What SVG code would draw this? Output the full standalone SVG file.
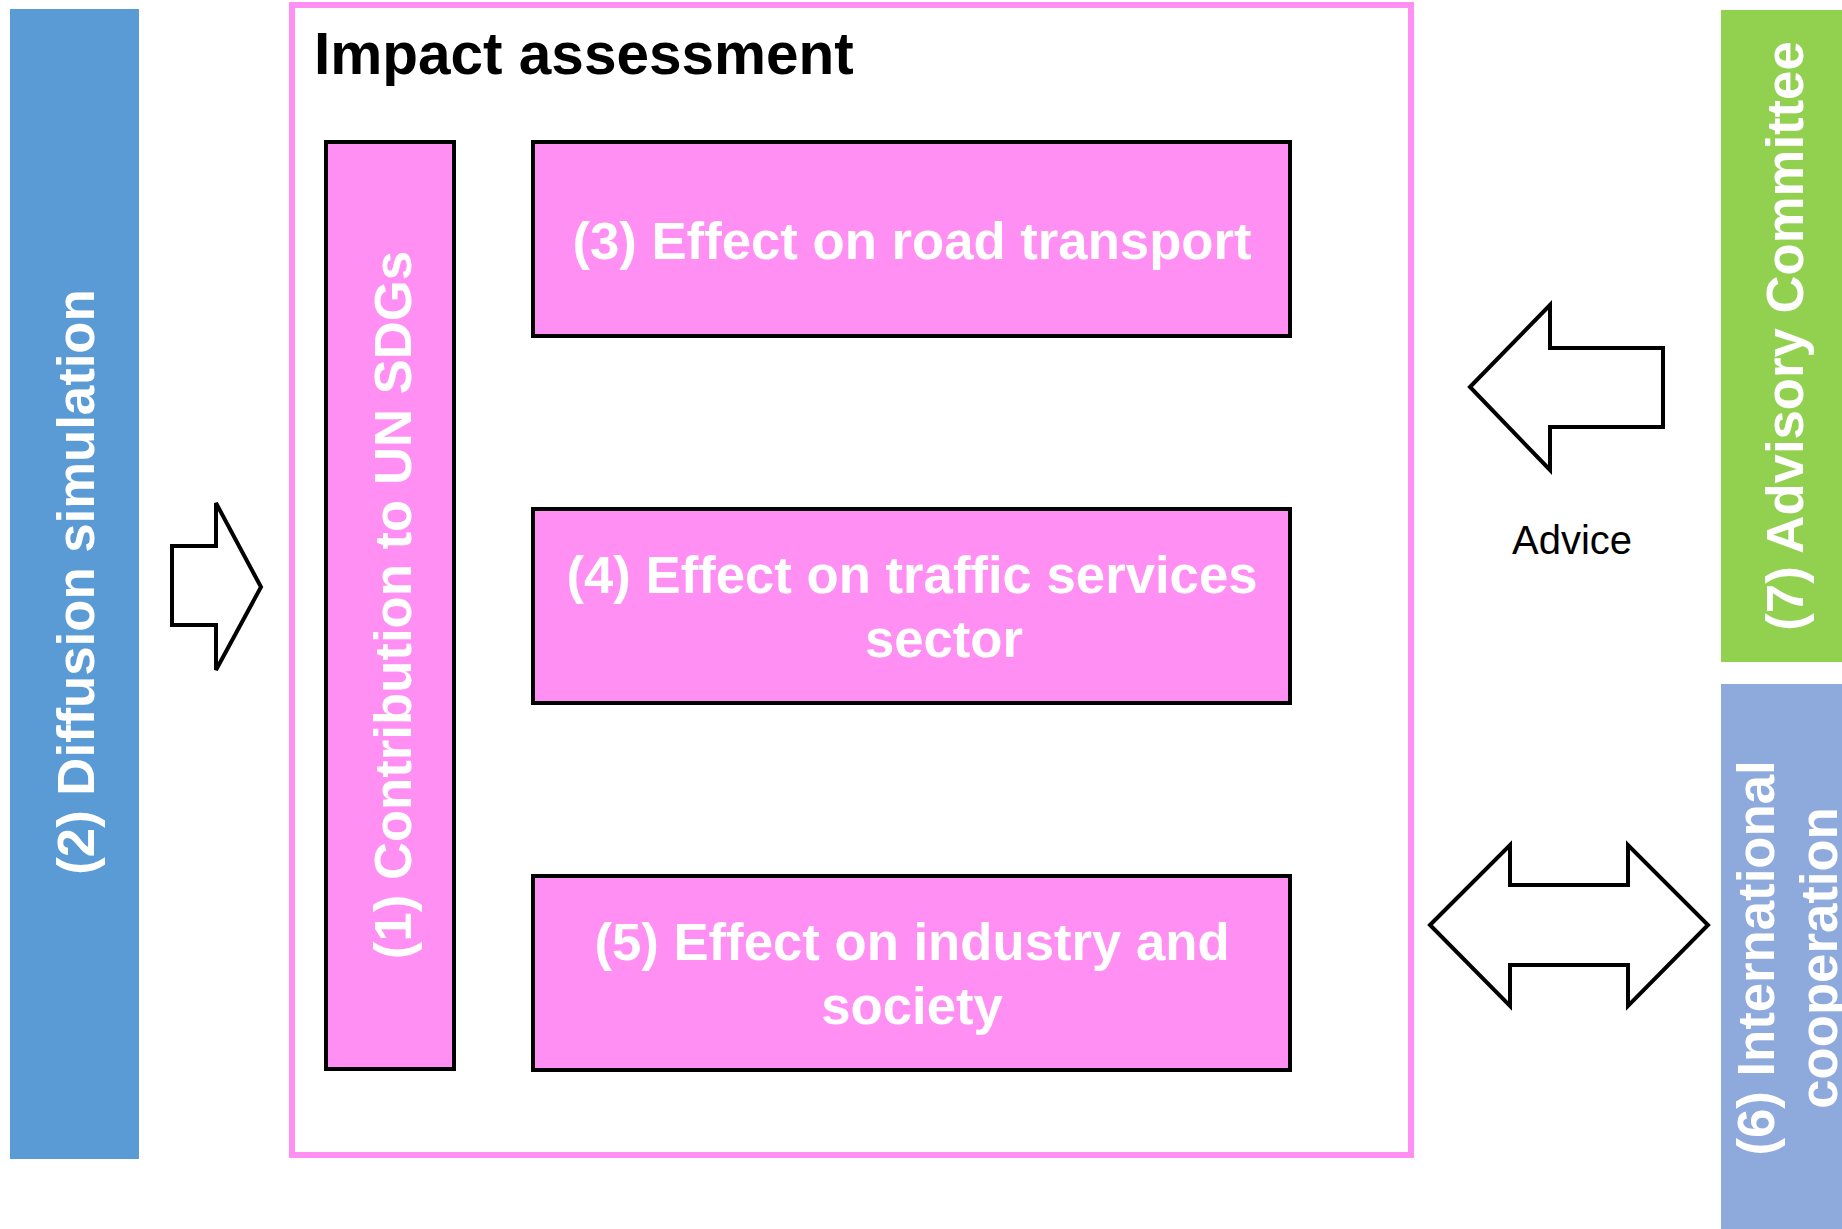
<svg xmlns="http://www.w3.org/2000/svg" width="1842" height="1229" viewBox="0 0 1842 1229">
<style>
.box{fill:#FF8FF3;stroke:#000;stroke-width:4}
.wt{fill:#fff;font-family:"Liberation Sans",Arial,sans-serif;font-weight:bold;font-size:52.7px;text-anchor:middle}
.arrow{fill:#fff;stroke:#000;stroke-width:4;stroke-linejoin:miter}
</style>
<rect width="1842" height="1229" fill="#fff"/>
<g id="diffusion">
<rect x="10" y="9" width="129" height="1150" fill="#5B9BD5"/>
<text class="wt" transform="translate(94,582) rotate(-90)">(2) Diffusion simulation</text>
</g>
<g id="impact">
<rect x="292" y="5" width="1119" height="1150" fill="none" stroke="#FF8FF3" stroke-width="6"/>
<text x="314" y="74" font-family="Liberation Sans,Arial,sans-serif" font-weight="bold" font-size="58.5" fill="#000">Impact assessment</text>
</g>
<g id="n1">
<rect class="box" x="326" y="142" width="128" height="927"/>
<text class="wt" transform="translate(411,605) rotate(-90)">(1) Contribution to UN SDGs</text>
</g>
<g id="n3">
<rect class="box" x="533" y="142" width="757" height="194"/>
<text class="wt" x="912" y="259">(3) Effect on road transport</text>
</g>
<g id="n4">
<rect class="box" x="533" y="509" width="757" height="194"/>
<text class="wt" x="912" y="593">(4) Effect on traffic services</text>
<text class="wt" x="944" y="657">sector</text>
</g>
<g id="n5">
<rect class="box" x="533" y="876" width="757" height="194"/>
<text class="wt" x="912" y="960">(5) Effect on industry and</text>
<text class="wt" x="912" y="1024">society</text>
</g>
<g id="n7">
<rect x="1721" y="10" width="121" height="652" fill="#92D050"/>
<text class="wt" transform="translate(1803,336) rotate(-90)">(7) Advisory Committee</text>
</g>
<g id="n6">
<rect x="1721" y="684" width="121" height="545" fill="#8EA9DB"/>
<text class="wt" transform="translate(1774,958) rotate(-90)">(6) International</text>
<text class="wt" transform="translate(1837,958) rotate(-90)">cooperation</text>
</g>
<g id="connectors">
<polygon class="arrow" points="172,546 216,546 216,503 261,587 216,670 216,625 172,625"/>
<polygon class="arrow" points="1470,387 1550,305 1550,348 1663,348 1663,427 1550,427 1550,470"/>
<text x="1572" y="554" font-family="Liberation Sans,Arial,sans-serif" font-size="40" text-anchor="middle" fill="#000">Advice</text>
<polygon class="arrow" points="1430,925 1510,845 1510,885 1628,885 1628,845 1708,925 1628,1006 1628,965 1510,965 1510,1006"/>
</g>
</svg>
